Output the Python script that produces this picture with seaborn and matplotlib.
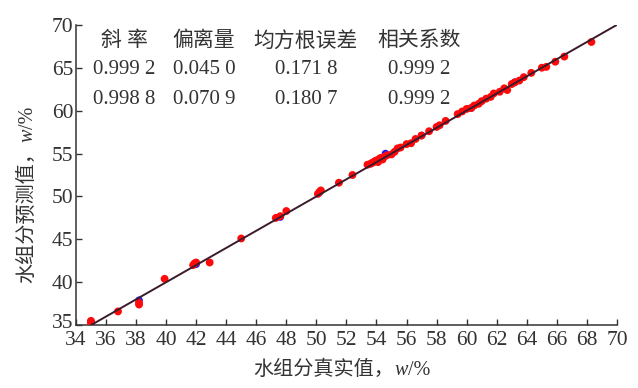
import matplotlib
matplotlib.use("Agg")
import matplotlib.pyplot as plt
import matplotlib.transforms as mtransforms
import seaborn as sns
import numpy as np
import pandas as pd

# calibration set (blue, mostly hidden under red)
cal_true = [35.0, 38.2, 42.0, 47.6, 50.2, 53.9, 54.6, 57.0, 60.3, 63.2]
cal_pred = [35.4, 37.9, 42.1, 47.6, 50.5, 54.1, 55.0, 57.1, 60.3, 63.3]

# validation set (red)
val_true = [35.0, 35.0, 36.8, 38.2, 38.2, 39.9, 41.8, 41.9, 42.0, 42.9,
            45.0, 47.3, 47.6, 48.0, 50.1, 50.2, 50.3, 51.5, 52.4, 53.4,
            53.6, 53.7, 53.8, 53.9, 54.0, 54.1, 54.2, 54.3, 54.4, 54.5,
            54.7, 55.0, 55.2, 55.4, 55.6, 56.0, 56.3, 56.6, 57.0, 57.5,
            58.0, 58.2, 58.6, 59.4, 59.7, 60.0, 60.3, 60.5, 60.8, 61.0,
            61.3, 61.6, 61.8, 62.2, 62.5, 62.7, 63.0, 63.2, 63.5, 63.8,
            64.3, 65.0, 65.3, 65.9, 66.5, 68.3]
val_pred = [35.3, 35.5, 36.6, 37.4, 37.6, 40.4, 42.0, 42.2, 42.3, 42.3,
            45.1, 47.5, 47.7, 48.3, 50.3, 50.5, 50.7, 51.6, 52.5, 53.7,
            53.8, 53.9, 54.0, 54.1, 54.2, 54.0, 54.4, 54.5, 54.3, 54.6,
            54.8, 54.9, 55.2, 55.6, 55.7, 56.1, 56.2, 56.7, 57.1, 57.6,
            58.1, 58.3, 58.8, 59.6, 59.9, 60.2, 60.3, 60.6, 60.8, 61.1,
            61.4, 61.6, 62.0, 62.2, 62.6, 62.4, 63.1, 63.3, 63.5, 63.9,
            64.4, 65.0, 65.1, 65.7, 66.3, 68.0]

fit_x = [35, 70]
fit_y = [35, 70]

headers = ["斜 率", "偏离量", "均方根误差", "相关系数"]
row1 = ["0.999 2", "0.045 0", "0.171 8", "0.999 2"]
row2 = ["0.998 8", "0.070 9", "0.180 7", "0.999 2"]

x_ticks = np.arange(34, 71, 2)
y_ticks = np.arange(35, 71, 5)

sns.set_style("ticks")
plt.rcParams["font.family"] = ["Liberation Serif", "Noto Sans CJK SC", "DejaVu Sans"]

TXT = "#333333"

fig = plt.figure(figsize=(6.38, 3.88), dpi=100)
ax = fig.add_axes([0.119, 0.162, 0.848, 0.774])

cal = pd.DataFrame({"true": cal_true, "pred": cal_pred})
val = pd.DataFrame({"true": val_true, "pred": val_pred})

sns.scatterplot(data=cal, x="true", y="pred", color="#1a1aff", s=30,
                edgecolor="none", ax=ax, zorder=2)
sns.scatterplot(data=val, x="true", y="pred", color="#ff0a0a", s=32,
                edgecolor="none", ax=ax, zorder=3)
sns.lineplot(x=fit_x, y=fit_y, color="#3a1a2c", linewidth=1.4, ax=ax, zorder=4)

ax.set_xlim(34, 70)
ax.set_ylim(35, 70)
ax.set_xticks(x_ticks)
ax.set_yticks(y_ticks)
ax.tick_params(direction="in", length=4, width=1, labelsize=15.5,
               color=TXT, labelcolor=TXT)
ax.tick_params(axis="x", pad=4.5)
ax.tick_params(axis="y", pad=2)
for s in ["top", "right"]:
    ax.spines[s].set_visible(False)
for s in ["left", "bottom"]:
    ax.spines[s].set_color(TXT)
    ax.spines[s].set_linewidth(1.1)
ax.set_xlabel("")
ax.set_ylabel("")

# nudge the lowest y label up a little so it doesn't run into "34"
lbl = ax.get_yticklabels()[0]
lbl.set_transform(lbl.get_transform() +
                  mtransforms.ScaledTranslation(0, 3 / 72, fig.dpi_scale_trans))

# axis labels built from pieces so that w can be italic
lab_fs = 14.5
t1 = fig.text(0.397, 0.046, "水组分真实值，", fontsize=lab_fs, color=TXT,
              ha="left", va="center")
t2 = ax.annotate("w", xy=(1, 0), xycoords=t1, ha="left", va="bottom",
                 fontsize=lab_fs, color=TXT, style="italic")
ax.annotate("/%", xy=(1, 0), xycoords=t2, ha="left", va="bottom",
            fontsize=lab_fs, color=TXT)

u1 = fig.text(0.044, 0.27, "水组分预测值，", fontsize=lab_fs, color=TXT,
              ha="center", va="bottom", rotation=90)
u2 = ax.annotate("w", xy=(0, 1), xycoords=u1, ha="left", va="bottom",
                 fontsize=lab_fs, color=TXT, style="italic", rotation=90)
ax.annotate("/%", xy=(0, 1), xycoords=u2, ha="left", va="bottom",
            fontsize=lab_fs, color=TXT, rotation=90)

# statistics table
col_x = [0.09, 0.236, 0.425, 0.634]
val_x = [0.089, 0.238, 0.425, 0.635]
for cx, h in zip(col_x, headers):
    ax.text(cx, 0.945, h, transform=ax.transAxes, ha="center", va="center",
            fontsize=15, color=TXT)
for vx, a, b in zip(val_x, row1, row2):
    ax.text(vx, 0.85, a, transform=ax.transAxes, ha="center", va="center",
            fontsize=15, color=TXT)
    ax.text(vx, 0.753, b, transform=ax.transAxes, ha="center", va="center",
            fontsize=15, color=TXT)

fig.savefig("out.png", dpi=100)
